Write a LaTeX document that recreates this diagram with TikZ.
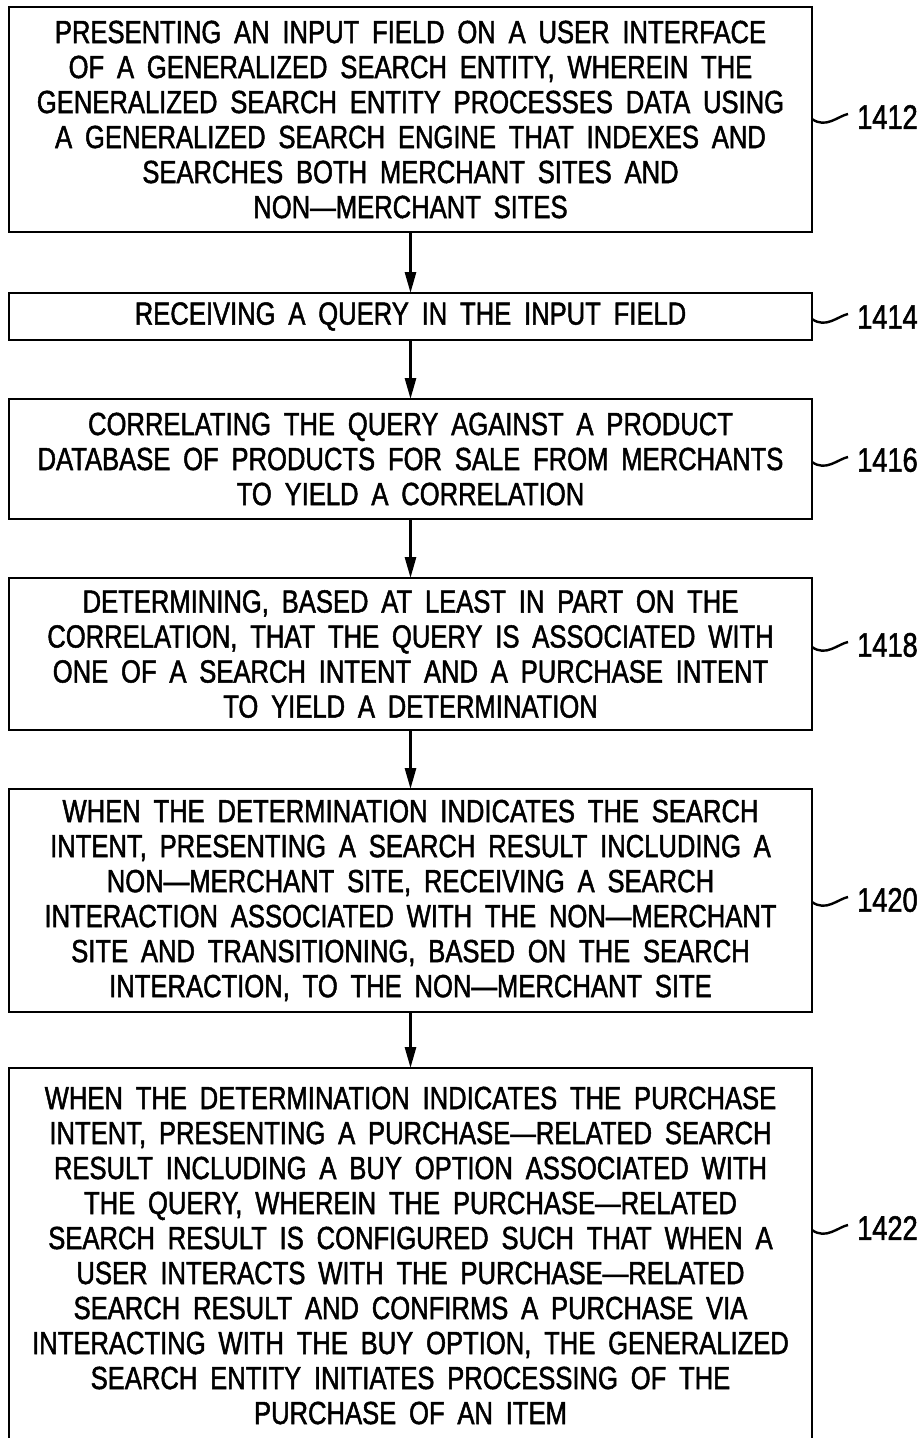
\documentclass[tikz,border=0pt]{standalone}
\usepackage{fontspec}
\setmainfont{Liberation Sans}[FakeStretch=0.8,WordSpace=1.8,FakeBold=1.5]
\usetikzlibrary{arrows.meta,positioning}

\begin{document}
\begin{tikzpicture}[x=1pt,y=-1pt,
	stepbox/.style={draw,line width=2.4pt,minimum width=803pt,inner sep=0pt,outer sep=0pt,align=center,font=\fontsize{32}{35}\selectfont},
	flow/.style={line width=2.8pt,-{Triangle[length=21pt,width=11pt]}},
	squig/.style={line width=2.4pt},
	tag/.style={anchor=west,inner sep=0pt,font=\fontsize{34}{34}\selectfont},
	node distance=59pt]
\useasboundingbox (0,0) rectangle (923,1438);
\node[stepbox,minimum height=225pt] (s1412) at (410.5,119.5) {PRESENTING AN INPUT FIELD ON A USER INTERFACE\\OF A GENERALIZED SEARCH ENTITY, WHEREIN THE\\GENERALIZED SEARCH ENTITY PROCESSES DATA USING\\A GENERALIZED SEARCH ENGINE THAT INDEXES AND\\SEARCHES BOTH MERCHANT SITES AND\\NON---MERCHANT SITES};
\node[stepbox,minimum height=47pt,below=61pt of s1412] (s1414) {RECEIVING A QUERY IN THE INPUT FIELD};
\node[stepbox,minimum height=120pt,below=of s1414] (s1416) {CORRELATING THE QUERY AGAINST A PRODUCT\\DATABASE OF PRODUCTS FOR SALE FROM MERCHANTS\\TO YIELD A CORRELATION};
\node[stepbox,minimum height=152pt,below=of s1416] (s1418) {DETERMINING, BASED AT LEAST IN PART ON THE\\CORRELATION, THAT THE QUERY IS ASSOCIATED WITH\\ONE OF A SEARCH INTENT AND A PURCHASE INTENT\\TO YIELD A DETERMINATION};
\node[stepbox,minimum height=223pt,below=of s1418] (s1420) {WHEN THE DETERMINATION INDICATES THE SEARCH\\INTENT, PRESENTING A SEARCH RESULT INCLUDING A\\NON---MERCHANT SITE, RECEIVING A SEARCH\\INTERACTION ASSOCIATED WITH THE NON---MERCHANT\\SITE AND TRANSITIONING, BASED ON THE SEARCH\\INTERACTION, TO THE NON---MERCHANT SITE};
\node[stepbox,minimum height=375pt,below=56pt of s1420] (s1422) {WHEN THE DETERMINATION INDICATES THE PURCHASE\\INTENT, PRESENTING A PURCHASE---RELATED SEARCH\\RESULT INCLUDING A BUY OPTION ASSOCIATED WITH\\THE QUERY, WHEREIN THE PURCHASE---RELATED\\SEARCH RESULT IS CONFIGURED SUCH THAT WHEN A\\USER INTERACTS WITH THE PURCHASE---RELATED\\SEARCH RESULT AND CONFIRMS A PURCHASE VIA\\INTERACTING WITH THE BUY OPTION, THE GENERALIZED\\SEARCH ENTITY INITIATES PROCESSING OF THE\\PURCHASE OF AN ITEM};

\draw[flow] (s1412) -- (s1414);
\draw[flow] (s1414) -- (s1416);
\draw[flow] (s1416) -- (s1418);
\draw[flow] (s1418) -- (s1420);
\draw[flow] (s1420) -- (s1422);

\node[tag] (t1412) at (857,117) {1412};
\node[tag] (t1414) at (857,317) {1414};
\node[tag] (t1416) at (857,460) {1416};
\node[tag] (t1418) at (857,645) {1418};
\node[tag] (t1420) at (857,900) {1420};
\node[tag] (t1422) at (857,1228) {1422};
\foreach \n in {1412,1414,1416,1418,1420,1422}
	\draw[squig] ([yshift=-2pt]t\n.west -| s\n.east) .. controls +(14,10) and +(-10,2) .. ([xshift=-9pt,yshift=3pt]t\n.west);
\end{tikzpicture}
\end{document}
